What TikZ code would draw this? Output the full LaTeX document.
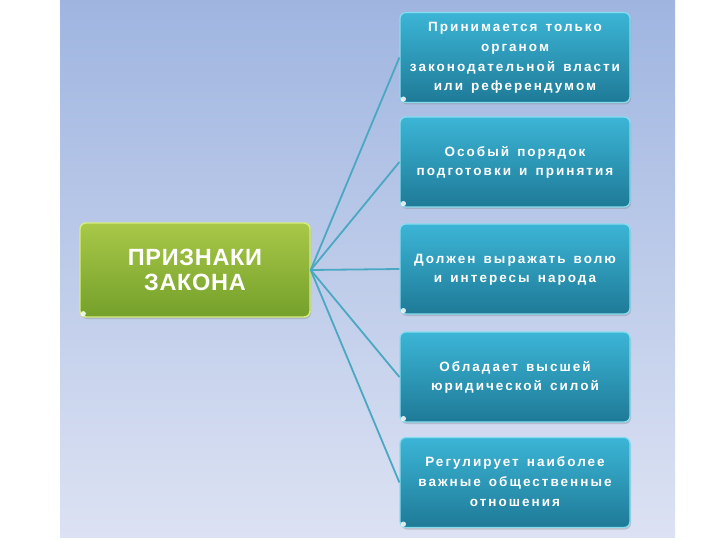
\documentclass[tikz,border=0pt]{standalone}
\usepackage{fontspec}
\setmainfont{Liberation Sans}
\newfontfamily\boxfont{Liberation Sans}[LetterSpace=15,WordSpace=1.4]
\newfontfamily\headfont{Liberation Sans}[LetterSpace=3]
\newcommand\boxlines[1]{\begin{tabular}{@{}c@{}}#1\end{tabular}}
\usetikzlibrary{shadows,calc}
\definecolor{bgtop}{HTML}{9FB5E0}
\definecolor{bgbot}{HTML}{DCE2F3}
\definecolor{tealA}{HTML}{3CB5D6}
\definecolor{tealB}{HTML}{1E7A97}
\definecolor{tealrim}{HTML}{86DDF0}
\definecolor{greenA}{HTML}{A8C848}
\definecolor{greenB}{HTML}{74A02A}
\definecolor{greenrim}{HTML}{D6EE7E}
\definecolor{linkc}{HTML}{4AA8C2}
\begin{document}
\begin{tikzpicture}[x=1pt,y=-1pt,
  tbox/.style={rounded corners=6pt, minimum width=230pt, minimum height=90pt,
    top color=tealA, bottom color=tealB, draw=tealrim, line width=1.2pt,
    text=white, inner sep=0pt,
    font=\boxfont\bfseries\fontsize{13.5}{19.7}\selectfont,
    drop shadow={opacity=0.35,shadow xshift=1pt,shadow yshift=-2pt}},
  gbox/.style={rounded corners=6pt, minimum width=230pt, minimum height=94pt,
    top color=greenA, bottom color=greenB, draw=greenrim, line width=1.4pt,
    text=white, align=center, inner sep=0pt,
    font=\headfont\bfseries\fontsize{23.5}{25}\selectfont,
    drop shadow={opacity=0.35,shadow xshift=1pt,shadow yshift=-2pt}},
  link/.style={draw=linkc, line width=1.8pt},
  glint/.style={fill=white, opacity=0.85}]
\useasboundingbox (0,0) rectangle (720,540);
\fill[top color=bgtop, bottom color=bgbot] (60,0) rectangle (675,537);

\node[gbox] (g) at (195,270) {ПРИЗНАКИ\\ЗАКОНА};
\node[tbox] (b1) at (515,57.5) {\boxlines{Принимается только\\органом\\законодательной власти\\или референдумом}};
\node[tbox] (b2) at (515,162) {\boxlines{Особый порядок\\подготовки и принятия}};
\node[tbox] (b3) at (515,269) {\boxlines{Должен выражать волю\\и интересы народа}};
\node[tbox] (b4) at (515,377) {\boxlines{Обладает высшей\\юридической силой}};
\node[tbox] (b5) at (515,482.5) {\boxlines{Регулирует наиболее\\важные общественные\\отношения}};

\foreach \n in {g,b1,b2,b3,b4,b5}
  \fill[glint] ($(\n.south west)+(4,-4)$) circle (2.6pt);

\foreach \n in {b1,b2,b3,b4,b5}
  \draw[link] (g.east) -- (\n.west);
\end{tikzpicture}
\end{document}
